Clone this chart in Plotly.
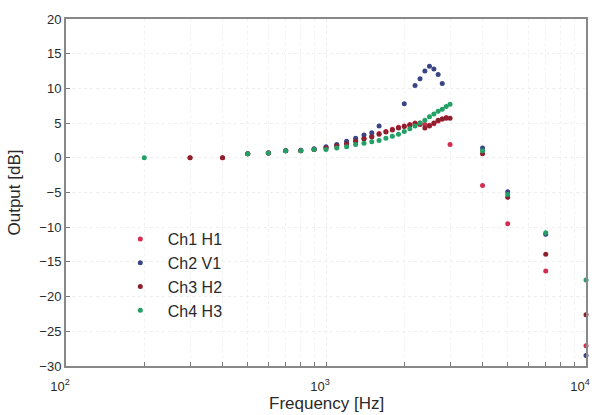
import plotly.graph_objects as go

freq = [200, 300, 400, 500, 600, 700, 800, 900,
        1000, 1100, 1200, 1300, 1400, 1500, 1600, 1700, 1800, 1900,
        2000, 2100, 2200, 2300, 2400, 2500, 2600, 2700, 2800, 2900, 3000,
        4000, 5000, 7000, 10000]

ch1_h1 = [None, 0.0, 0.0, 0.6, 0.7, 1.0, 1.0, 1.2,
          1.5, 1.8, 2.1, 2.5, 2.8, 3.1, 3.5, 3.8, 4.1, 4.4,
          4.6, 4.8, 5.0, 5.0, 4.8, 4.7, 4.9, 5.3, 5.6, 5.8, 1.9,
          -4.0, -9.5, -16.3, -27.1]
ch2_v1 = [None, None, None, 0.6, 0.7, 1.0, 1.1, 1.3,
          1.6, 1.9, 2.4, 2.8, 3.3, 3.6, 4.6, None, None, None,
          7.8, None, 10.4, 11.4, 12.5, 13.2, 12.8, 12.0, 10.7, None, None,
          1.4, -4.9, -11.0, -28.5]
ch3_h2 = [None, 0.0, 0.0, 0.6, 0.7, 1.0, 1.0, 1.2,
          1.4, 1.7, 2.0, 2.4, 2.7, 3.0, 3.4, 3.7, 4.0, 4.3,
          4.5, 4.7, 4.9, 4.8, 4.3, 4.6, 5.0, 5.4, 5.6, 5.7, 5.7,
          0.6, -5.7, -13.9, -22.6]
ch4_h3 = [0.0, None, None, 0.6, 0.7, 1.0, 1.0, 1.2,
          1.2, 1.4, 1.6, 1.9, 2.1, 2.3, 2.5, 2.8, 3.1, 3.4,
          3.8, 4.2, 4.6, 5.0, 5.4, 5.9, 6.3, 6.7, 7.0, 7.4, 7.7,
          1.0, -5.3, -10.8, -17.6]

names = ["Ch1 H1", "Ch2 V1", "Ch3 H2", "Ch4 H3"]
colors = ["#d42d4f", "#3a4684", "#8e1f2c", "#22a066"]
series = [ch1_h1, ch2_v1, ch3_h2, ch4_h3]

yticks = [20, 15, 10, 5, 0, -5, -10, -15, -20, -25, -30]
xdecades = [100, 1000, 10000]
xdecade_labels = ["10<sup>2</sup>", "10<sup>3</sup>", "10<sup>4</sup>"]

xminor = []
for d in [100, 1000]:
    for m in range(2, 10):
        xminor.append(d * m)

fig = go.Figure()
for name, col, ys in zip(names, colors, series):
    fig.add_trace(go.Scatter(
        x=freq, y=ys, mode="markers", name=name,
        marker=dict(color=col, size=5),
        cliponaxis=False,
    ))

fig.update_layout(
    width=603, height=415,
    margin=dict(l=66, r=17, t=16, b=49),
    paper_bgcolor="white", plot_bgcolor="white",
    font=dict(family="Liberation Sans, Arial, sans-serif", color="#2a2a2a", size=13),
    showlegend=True,
    legend=dict(x=0.09, y=0.415, xanchor="left", yanchor="top",
                bgcolor="rgba(0,0,0,0)", font=dict(size=16, color="#2a2a2a"),
                itemwidth=45, tracegroupgap=0),
    annotations=[dict(text="Frequency [Hz]", xref="paper", yref="paper",
                      x=0.5, y=-0.108, xanchor="center", yanchor="middle",
                      showarrow=False, font=dict(size=17, color="#2a2a2a"))],
)

fig.update_xaxes(
    type="log", range=[2, 4],
    tickvals=xdecades, ticktext=xdecade_labels,
    ticks="inside", ticklen=4, tickcolor="#777777",
    ticklabelstandoff=7, ticklabelshift=-6, ticklabeloverflow="allow",
    showline=True, linecolor="#888888", linewidth=2, mirror=True,
    showgrid=True, gridcolor="#eeeeee", griddash="dot", gridwidth=1,
    minor=dict(tickvals=xminor, ticks="inside", ticklen=4, tickcolor="#777777",
               showgrid=True, gridcolor="#f2f2f2", griddash="dot"),
    zeroline=False,
)
fig.update_yaxes(
    range=[-30, 20], tickvals=yticks,
    ticks="inside", ticklen=4, tickcolor="#777777",
    showline=True, linecolor="#888888", linewidth=2, mirror=True,
    showgrid=True, gridcolor="#eeeeee", griddash="dot", gridwidth=1,
    title=dict(text="Output [dB]", font=dict(size=17, color="#2a2a2a"), standoff=14),
    zeroline=False,
)

fig.write_html("out.html", config={"displayModeBar": False},
               post_script="document.body.style.margin='0';document.body.style.overflow='hidden';")
